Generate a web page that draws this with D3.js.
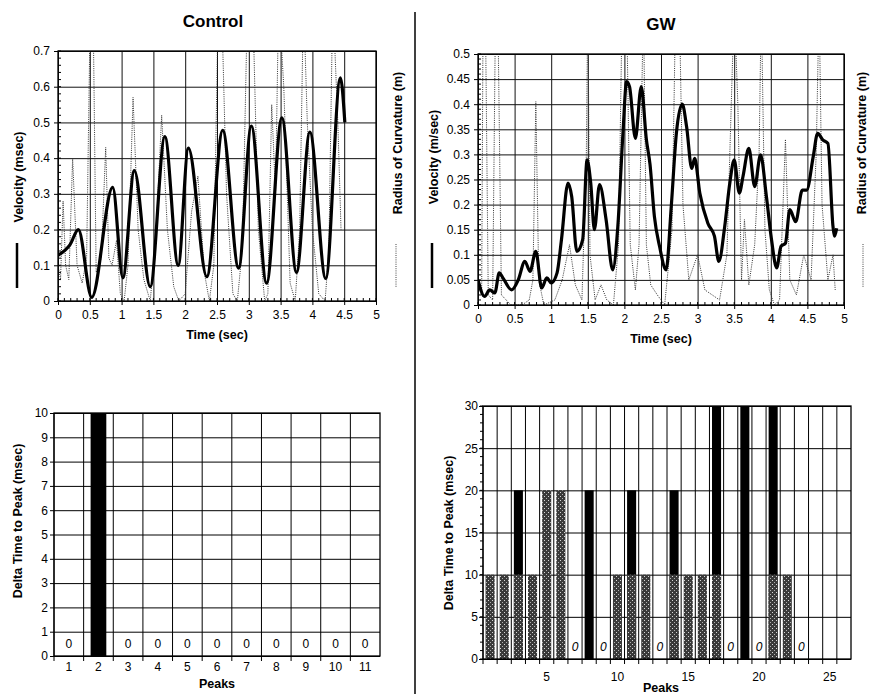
<!DOCTYPE html>
<html>
<head>
<meta charset="utf-8">
<script src="https://cdn.jsdelivr.net/npm/d3@7"></script>
<style>
  body { margin: 0; background: #fff; }
  text { font-family: "Liberation Sans", Arial, sans-serif; }
</style>
</head>
<body>
<div id="chart"></div>
<script>
// ---- data ----
var timeTicks = [0, 0.5, 1, 1.5, 2, 2.5, 3, 3.5, 4, 4.5, 5]
var ctrlVelTicks = [0, 0.1, 0.2, 0.3, 0.4, 0.5, 0.6, 0.7]
var gwVelTicks = [0, 0.05, 0.1, 0.15, 0.2, 0.25, 0.3, 0.35, 0.4, 0.45, 0.5]

// [time (sec), velocity]
var ctrlVelocity = [
  [0.0, 0.128], [0.19, 0.158], [0.32, 0.2], [0.53, 0.01], [0.86, 0.318], [1.02, 0.065],
  [1.2, 0.365], [1.45, 0.04], [1.68, 0.46], [1.89, 0.1], [2.05, 0.428], [2.34, 0.068],
  [2.59, 0.478], [2.84, 0.092], [3.04, 0.49], [3.28, 0.05], [3.52, 0.513], [3.75, 0.08],
  [3.96, 0.473], [4.21, 0.063], [4.44, 0.625], [4.51, 0.5]
]
// [time (sec), radius of curvature] (own unlabeled axis)
var ctrlRadius = [
  [0, 0.1], [0.04, 0.06], [0.08, 0.28], [0.12, 0.1], [0.17, 0.06], [0.23, 0.4], [0.3, 0.1],
  [0.38, 0.05], [0.45, 0.12], [0.51, 0.85], [0.55, 0.85], [0.6, 0.08], [0.68, 0.12],
  [0.75, 0.43], [0.8, 0.12], [0.85, 0.1], [0.92, 0.17], [0.98, 0.02], [1.04, 0.0],
  [1.1, 0.1], [1.18, 0.57], [1.26, 0.2], [1.35, 0.06], [1.45, 0.0], [1.54, 0.18],
  [1.63, 0.52], [1.72, 0.2], [1.82, 0.04], [1.9, 0.0], [2.0, 0.02], [2.1, 0.25],
  [2.2, 0.35], [2.3, 0.08], [2.38, 0.0], [2.45, 0.1], [2.52, 0.85], [2.57, 0.85],
  [2.65, 0.3], [2.75, 0.02], [2.82, 0.0], [2.9, 0.15], [2.98, 0.85], [3.06, 0.85],
  [3.15, 0.2], [3.25, 0.0], [3.3, 0.02], [3.36, 0.55], [3.42, 0.3], [3.47, 0.85],
  [3.55, 0.6], [3.65, 0.05], [3.73, 0.0], [3.8, 0.2], [3.86, 0.85], [3.92, 0.5],
  [4.0, 0.2], [4.1, 0.02], [4.2, 0.0], [4.26, 0.15], [4.32, 0.85], [4.4, 0.5], [4.45, 0.2]
]
var gwVelocity = [
  [0.0, 0.05], [0.09, 0.017], [0.16, 0.03], [0.23, 0.024], [0.29, 0.064], [0.34, 0.054],
  [0.46, 0.03], [0.55, 0.05], [0.64, 0.087], [0.71, 0.067], [0.79, 0.107], [0.87, 0.034],
  [0.94, 0.054], [1.0, 0.044], [1.08, 0.064], [1.14, 0.13], [1.23, 0.243], [1.28, 0.216],
  [1.35, 0.107], [1.43, 0.13], [1.49, 0.289], [1.54, 0.243], [1.59, 0.15], [1.66, 0.24],
  [1.75, 0.17], [1.84, 0.07], [1.91, 0.156], [1.98, 0.342], [2.03, 0.445], [2.07, 0.435],
  [2.15, 0.332], [2.23, 0.435], [2.3, 0.33], [2.35, 0.28], [2.41, 0.176], [2.48, 0.117],
  [2.57, 0.07], [2.64, 0.196], [2.71, 0.342], [2.79, 0.4], [2.85, 0.355], [2.92, 0.272],
  [2.96, 0.292], [3.03, 0.223], [3.14, 0.163], [3.23, 0.137], [3.29, 0.087], [3.37, 0.156],
  [3.44, 0.243], [3.5, 0.289], [3.57, 0.223], [3.62, 0.256], [3.7, 0.312], [3.78, 0.236],
  [3.86, 0.299], [3.94, 0.216], [4.01, 0.13], [4.08, 0.074], [4.14, 0.117], [4.2, 0.123],
  [4.26, 0.19], [4.34, 0.166], [4.43, 0.229], [4.49, 0.229], [4.58, 0.296], [4.64, 0.342],
  [4.71, 0.329], [4.78, 0.322], [4.85, 0.156], [4.87, 0.137], [4.9, 0.153]
]
var gwRadius = [
  [0, 0.04], [0.05, 0.02], [0.07, 0.6], [0.1, 0.6], [0.14, 0.02], [0.2, 0.01], [0.24, 0.6],
  [0.27, 0.6], [0.32, 0.02], [0.45, 0.0], [0.6, 0.0], [0.7, 0.01], [0.75, 0.05],
  [0.79, 0.405], [0.83, 0.05], [0.9, 0.0], [1.05, 0.01], [1.15, 0.05], [1.25, 0.12],
  [1.33, 0.04], [1.42, 0.01], [1.48, 0.3], [1.5, 0.6], [1.53, 0.1], [1.6, 0.01],
  [1.68, 0.04], [1.76, 0.01], [1.85, 0.0], [1.92, 0.12], [1.97, 0.6], [2.03, 0.6],
  [2.08, 0.12], [2.15, 0.03], [2.2, 0.12], [2.26, 0.6], [2.3, 0.12], [2.36, 0.04],
  [2.45, 0.02], [2.55, 0.0], [2.65, 0.15], [2.7, 0.6], [2.75, 0.6], [2.8, 0.2], [2.88, 0.05],
  [3.0, 0.1], [3.1, 0.03], [3.2, 0.02], [3.3, 0.01], [3.4, 0.1], [3.5, 0.6], [3.55, 0.4],
  [3.6, 0.05], [3.64, 0.17], [3.7, 0.04], [3.78, 0.12], [3.84, 0.3], [3.87, 0.6],
  [3.92, 0.15], [3.98, 0.03], [4.05, 0.0], [4.12, 0.01], [4.2, 0.33], [4.26, 0.05],
  [4.35, 0.02], [4.45, 0.1], [4.55, 0.05], [4.62, 0.3], [4.66, 0.6], [4.7, 0.2],
  [4.78, 0.05], [4.85, 0.1], [4.88, 0.03]
]

var ctrlPeaks = ["1", "2", "3", "4", "5", "6", "7", "8", "9", "10", "11"]
var ctrlDelta = [0, 10, 0, 0, 0, 0, 0, 0, 0, 0, 0]
var ctrlDeltaTicks = [0, 1, 2, 3, 4, 5, 6, 7, 8, 9, 10]

var gwPeaks = ["1","2","3","4","5","6","7","8","9","10","11","12","13","14","15","16","17","18","19","20","21","22","23","24","25","26"]
var gwDeltaSolid = [0, 0, 20, 0, 0, 0, 0, 20, 0, 0, 20, 0, 0, 20, 0, 0, 30, 0, 30, 0, 30, 0, 0, null, null, null]
var gwDeltaStipple = [10, 10, 10, 10, 20, 20, 0, 0, 0, 10, 10, 10, 0, 10, 10, 10, 10, 0, 0, 0, 10, 10, 0, null, null, null]
var gwDeltaTicks = [0, 5, 10, 15, 20, 25, 30]
var gwPeakLabels = ["5", "10", "15", "20", "25"]

// ---- drawing ----
var svg = d3.select("#chart").append("svg")
  .attr("width", 872).attr("height", 694)
  .style("background", "#fff")

var defs = svg.append("defs")
var pat = defs.append("pattern").attr("id", "stip")
  .attr("patternUnits", "userSpaceOnUse").attr("width", 4).attr("height", 4)
pat.append("rect").attr("width", 4).attr("height", 4).attr("fill", "#3a3a3a")
pat.append("rect").attr("x", 0).attr("y", 0).attr("width", 1).attr("height", 1).attr("fill", "#d8d8d8")
pat.append("rect").attr("x", 2).attr("y", 2).attr("width", 1).attr("height", 1).attr("fill", "#b0b0b0")

var fmt = d3.format("~g")
var FONT = "'Liberation Sans', Arial, sans-serif"

function styleAxis(sel) {
  sel.attr("font-family", FONT).attr("font-size", 12)
  sel.selectAll("text").attr("fill", "#000")
  sel.selectAll("line").attr("stroke", "#000")
  sel.select(".domain").remove()
}

function rotLabel(x, y, txt) {
  svg.append("text")
    .attr("transform", "translate(" + x + "," + y + ") rotate(-90)")
    .attr("text-anchor", "middle")
    .attr("font-size", 12.5).attr("font-weight", "bold")
    .text(txt)
}

// titles + divider
svg.append("text").attr("x", 213).attr("y", 27).attr("text-anchor", "middle")
  .attr("font-size", 17).attr("font-weight", "bold").text("Control")
svg.append("text").attr("x", 661).attr("y", 30).attr("text-anchor", "middle")
  .attr("font-size", 17).attr("font-weight", "bold").text("GW")
svg.append("line").attr("x1", 415).attr("x2", 415).attr("y1", 12).attr("y2", 694)
  .attr("stroke", "#000").attr("stroke-width", 1.5)

function topPanel(o) {
  var x = d3.scaleLinear().domain([0, 5]).range([o.left, o.right])
  var y = d3.scaleLinear().domain([0, o.ymax]).range([o.bottom, o.top])
  var r = d3.scaleLinear().domain([0, o.ymax]).range([o.bottom, o.top])
  var w = o.right - o.left, h = o.bottom - o.top
  var g = svg.append("g")

  defs.append("clipPath").attr("id", o.id + "clip").append("rect")
    .attr("x", o.left).attr("y", o.top).attr("width", w).attr("height", h)

  // grid
  g.append("g").attr("transform", "translate(0," + o.bottom + ")")
    .call(d3.axisBottom(x).tickValues(timeTicks).tickSize(-h).tickFormat(""))
    .call(styleAxis)
  g.append("g").attr("transform", "translate(" + o.left + ",0)")
    .call(d3.axisLeft(y).tickValues(o.yTicks).tickSize(-w).tickFormat(""))
    .call(styleAxis)
  g.selectAll(".tick line").attr("stroke-width", 1).attr("stroke", "#111")

  // minor ticks inside frame
  g.append("g").selectAll("line").data(x.ticks(50)).join("line")
    .attr("x1", d => x(d)).attr("x2", d => x(d))
    .attr("y1", o.bottom).attr("y2", o.bottom - 3).attr("stroke", "#000")
  g.append("g").selectAll("line").data(y.ticks(o.minorY)).join("line")
    .attr("x1", o.left).attr("x2", o.left + 3)
    .attr("y1", d => y(d)).attr("y2", d => y(d)).attr("stroke", "#000")

  // labelled axes
  g.append("g").attr("transform", "translate(0," + o.bottom + ")")
    .call(d3.axisBottom(x).tickValues(timeTicks).tickFormat(fmt).tickSize(4).tickPadding(5))
    .call(styleAxis)
  g.append("g").attr("transform", "translate(" + o.left + ",0)")
    .call(d3.axisLeft(y).tickValues(o.yTicks).tickFormat(fmt).tickSize(4).tickPadding(o.yPad))
    .call(styleAxis)

  // series
  var plot = g.append("g").attr("clip-path", "url(#" + o.id + "clip)")
  plot.append("path").datum(o.radius)
    .attr("d", d3.line().x(d => x(d[0])).y(d => r(d[1])))
    .attr("fill", "none").attr("stroke", "#333").attr("stroke-width", 1)
    .attr("stroke-dasharray", "1 1.2")
  plot.append("path").datum(o.velocity)
    .attr("d", d3.line().curve(d3.curveMonotoneX).x(d => x(d[0])).y(d => y(d[1])))
    .attr("fill", "none").attr("stroke", "#000").attr("stroke-width", 3.2)
    .attr("stroke-linejoin", "round")

  g.append("rect").attr("x", o.left).attr("y", o.top).attr("width", w).attr("height", h)
    .attr("fill", "none").attr("stroke", "#000").attr("stroke-width", 1.3)

  // axis titles and legend marks
  svg.append("text").attr("x", (o.left + o.right) / 2).attr("y", o.bottom + 38)
    .attr("text-anchor", "middle").attr("font-size", 12.5).attr("font-weight", "bold")
    .text("Time (sec)")
  rotLabel(o.yLabelX, o.yLabelY, o.yLabel)
  rotLabel(o.rLabelX, 143, "Radius of Curvature (m)")
  svg.append("line").attr("x1", o.legX).attr("x2", o.legX).attr("y1", 243).attr("y2", 288)
    .attr("stroke", "#000").attr("stroke-width", 2.5)
  svg.append("line").attr("x1", o.rLegX).attr("x2", o.rLegX).attr("y1", 244).attr("y2", 287)
    .attr("stroke", "#444").attr("stroke-width", 1).attr("stroke-dasharray", "1 1.2")
}

topPanel({ id: "ct", left: 58, right: 376, top: 51, bottom: 301, ymax: 0.7,
  yTicks: ctrlVelTicks, minorY: 35, yPad: 4,
  velocity: ctrlVelocity, radius: ctrlRadius,
  yLabel: "Velocity (msec)", yLabelX: 23, yLabelY: 177, rLabelX: 402,
  legX: 17, rLegX: 396 })

topPanel({ id: "gt", left: 478, right: 844, top: 54, bottom: 305, ymax: 0.5,
  yTicks: gwVelTicks, minorY: 50, yPad: 4,
  velocity: gwVelocity, radius: gwRadius,
  yLabel: "Velocity (m/sec)", yLabelX: 438, yLabelY: 157, rLabelX: 866,
  legX: 432, rLegX: 863 })

function barPanel(o) {
  var x = d3.scaleBand().domain(o.peaks).range([o.left, o.right])
  var y = d3.scaleLinear().domain([0, o.ymax]).range([o.bottom, o.top])
  var w = o.right - o.left, h = o.bottom - o.top
  var bw = x.bandwidth() * o.barFrac
  var g = svg.append("g")

  // grid: horizontal at y ticks, vertical at band edges
  g.append("g").attr("transform", "translate(" + o.left + ",0)")
    .call(d3.axisLeft(y).tickValues(o.yTicks).tickSize(-w).tickFormat(""))
    .call(styleAxis)
  g.append("g").selectAll("line").data(o.peaks).join("line")
    .attr("x1", d => x(d)).attr("x2", d => x(d))
    .attr("y1", o.top).attr("y2", o.bottom + 5)
    .attr("stroke", "#000").attr("stroke-width", 1)
  if (o.minorY) {
    g.append("g").selectAll("line").data(y.ticks(o.minorY)).join("line")
      .attr("x1", o.left - 3).attr("x2", o.left)
      .attr("y1", d => y(d)).attr("y2", d => y(d)).attr("stroke", "#000")
  }

  // bars
  g.append("g").selectAll("rect").data(o.peaks.map((p, i) => [p, o.solid[i]]).filter(d => d[1] > 0))
    .join("rect")
    .attr("x", d => x(d[0]) + (x.bandwidth() - bw) / 2).attr("width", bw)
    .attr("y", d => y(d[1])).attr("height", d => o.bottom - y(d[1]))
    .attr("fill", "#000")
  if (o.stipple) {
    g.append("g").selectAll("rect").data(o.peaks.map((p, i) => [p, o.stipple[i]]).filter(d => d[1] > 0))
      .join("rect")
      .attr("x", d => x(d[0]) + (x.bandwidth() - bw) / 2).attr("width", bw)
      .attr("y", d => y(d[1])).attr("height", d => o.bottom - y(d[1]))
      .attr("fill", "url(#stip)")
  }

  // zero labels
  var zeros = o.peaks.filter((p, i) => o.solid[i] === 0 && (!o.stipple || o.stipple[i] === 0))
  g.append("g").selectAll("text").data(zeros).join("text")
    .attr("x", d => x(d) + x.bandwidth() / 2).attr("y", y(o.zeroAt))
    .attr("dy", "0.36em").attr("text-anchor", "middle").attr("fill", "#000")
    .attr("font-size", 12).attr("font-style", o.italicZero ? "italic" : "normal")
    .text("0")

  g.append("rect").attr("x", o.left).attr("y", o.top).attr("width", w).attr("height", h)
    .attr("fill", "none").attr("stroke", "#000").attr("stroke-width", 1.3)

  // axes
  g.append("g").attr("transform", "translate(" + o.left + ",0)")
    .call(d3.axisLeft(y).tickValues(o.yTicks).tickFormat(fmt).tickSize(4).tickPadding(o.yPad))
    .call(styleAxis)
  g.append("g").attr("transform", "translate(0," + o.bottom + ")")
    .call(d3.axisBottom(x).tickValues(o.xLabels).tickSize(0).tickPadding(o.xPad))
    .call(styleAxis)

  svg.append("text").attr("x", o.peaksX).attr("y", o.peaksY)
    .attr("text-anchor", "middle").attr("font-size", 12.5).attr("font-weight", "bold")
    .text("Peaks")
  rotLabel(o.yLabelX, o.yLabelY, "Delta Time to Peak (msec)")
}

barPanel({ left: 54, right: 380, top: 413, bottom: 656, ymax: 10,
  peaks: ctrlPeaks, solid: ctrlDelta, yTicks: ctrlDeltaTicks, xLabels: ctrlPeaks,
  barFrac: 0.53, zeroAt: 0.5, yPad: 2, xPad: 6, peaksX: 217, peaksY: 688,
  yLabelX: 22, yLabelY: 521 })

barPanel({ left: 483, right: 851, top: 406, bottom: 659, ymax: 30,
  peaks: gwPeaks, solid: gwDeltaSolid, stipple: gwDeltaStipple, yTicks: gwDeltaTicks,
  xLabels: gwPeakLabels, minorY: 30, italicZero: true,
  barFrac: 0.64, zeroAt: 1.5, yPad: 1, xPad: 13, peaksX: 661, peaksY: 692,
  yLabelX: 453, yLabelY: 533 })
</script>
</body>
</html>
